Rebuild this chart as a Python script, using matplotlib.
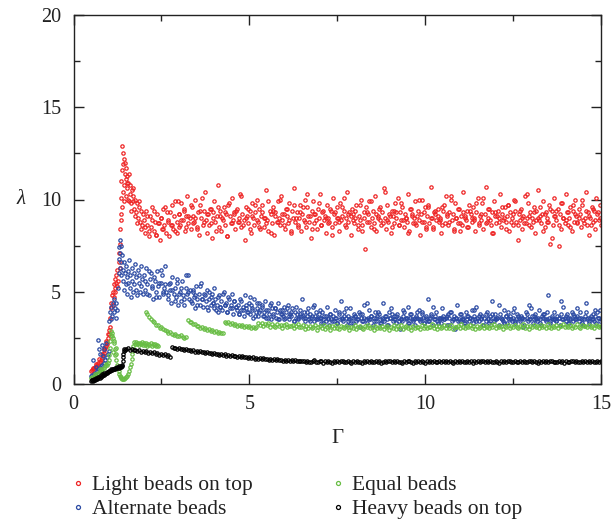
import numpy as np
import matplotlib
matplotlib.use("Agg")
import matplotlib.pyplot as plt

plt.rcParams['font.family'] = ['Liberation Serif', 'DejaVu Serif']

# ---------------- data ----------------
labels = ["Light beads on top", "Alternate beads", "Equal beads", "Heavy beads on top"]
colors = ["#ee2424", "#2b4aa3", "#68bd44", "#000000"]

# --- Light beads on top (red) ---
red_early_x = [0.50, 0.53, 0.56, 0.59, 0.62, 0.65, 0.68, 0.71, 0.74, 0.77, 0.80, 0.83, 0.86, 0.88,
               0.90, 0.92, 0.94, 0.96, 0.98, 1.00, 1.02, 1.03,
               0.55, 0.63, 0.72, 0.81, 0.87, 0.93, 0.97,
               1.04, 1.06, 1.08, 1.10, 1.11, 1.13, 1.14, 1.15, 1.17, 1.18, 1.19, 1.21, 1.22, 1.24,
               1.25, 1.27, 1.28, 1.30, 1.31, 1.33, 1.32, 1.36,
               1.34, 1.35, 1.36, 1.37, 1.38, 1.39, 1.40, 1.41, 1.42, 1.43, 1.44, 1.45, 1.46, 1.47,
               1.48, 1.49, 1.50, 1.52, 1.53, 1.55, 1.56, 1.58, 1.60, 1.62, 1.64, 1.66, 1.68, 1.70,
               1.72, 1.75, 1.78, 1.80, 1.83, 1.86, 1.89, 1.92, 1.95, 1.98,
               1.51, 1.57, 1.63, 1.69, 1.74, 1.81, 1.87, 1.93]
red_early_y = [0.68, 0.74, 0.80, 0.85, 0.92, 0.98, 1.05, 1.12, 1.20, 1.30, 1.42, 1.55, 1.70, 1.82,
               1.95, 2.05, 2.15, 2.30, 2.50, 2.70, 2.90, 3.10,
               0.86, 1.08, 1.35, 1.62, 1.95, 2.35, 2.70,
               3.6, 4.1, 4.4, 4.8, 4.3, 5.0, 5.4, 4.7, 5.2, 5.7, 5.0, 5.5, 5.9, 5.3,
               6.2, 5.6, 6.6, 7.1, 6.3, 7.6, 8.4, 8.9,
               9.2, 10.1, 11.0, 9.6, 12.9, 11.6, 10.4, 12.5, 11.9, 9.9, 12.2, 10.8, 11.4, 12.0,
               10.2, 11.1, 11.7, 10.6, 11.3, 10.0, 10.9, 11.4, 10.3, 10.8, 9.8, 10.5, 9.9, 10.2,
               9.5, 10.0, 9.3, 9.8, 9.0, 9.6, 8.8, 9.4, 8.6, 9.2,
               10.9, 9.9, 9.4, 10.6, 9.1, 8.7, 9.9, 8.4]
red_segments = [(2.0, 3.0), (3.0, 15.0), (2.03, 14.97)]
red_seg_y = [
    [8.9, 8.2, 9.4, 8.6, 8.0, 9.1, 8.5, 9.6, 8.3, 8.8,
     8.1, 9.2, 8.7, 7.8, 9.0, 8.4, 9.5, 8.6, 8.2, 9.3,
     8.9, 8.0, 8.6, 9.7, 8.4, 9.1, 8.3, 8.8, 9.9, 8.5],
    [9.2, 8.6, 9.8, 8.9, 9.4, 8.3, 9.1, 10.2, 8.7, 9.0,
     8.4, 9.6, 9.1, 8.8, 10.0, 8.5, 9.3, 8.1, 9.7, 9.0,
     8.6, 9.4, 10.4, 8.9, 8.2, 9.2, 9.5, 8.7, 7.9, 9.3,
     9.9, 8.8, 9.1, 10.8, 8.5, 9.4, 8.3, 9.0, 9.6, 8.6,
     9.2, 8.0, 9.7, 9.1, 8.7, 10.1, 8.9, 9.3, 8.4, 9.5,
     8.8, 9.0, 10.3, 8.5, 9.2, 8.9, 7.8, 9.6, 9.1, 8.7,
     9.4, 8.2, 9.8, 9.0, 8.6, 9.3, 10.0, 8.8, 9.5, 8.4,
     9.1, 9.7, 8.5, 9.0, 10.5, 8.9, 8.3, 9.4, 9.2, 8.7,
     9.6, 8.1, 9.3, 8.8, 9.9, 9.0, 8.6, 10.2, 8.9, 9.2,
     8.4, 9.5, 9.1, 8.7, 9.8, 8.2, 9.4, 9.0, 10.6, 8.8,
     9.3, 8.6, 9.0, 9.7, 8.3, 9.2, 8.9, 10.0, 8.5, 9.6,
     9.1, 8.8, 7.9, 9.4, 9.9, 8.7, 9.2, 8.4, 9.5, 9.0,
     10.3, 8.6, 9.3, 8.9, 9.1, 8.2, 9.7, 9.0, 8.8, 9.4,
     8.5, 10.1, 9.2, 8.7, 9.6, 9.0, 8.3, 9.8, 8.9, 9.1,
     9.4, 8.6, 9.0, 10.4, 8.8, 9.3, 8.1, 9.5, 9.2, 8.7,
     9.0, 9.7, 8.4, 9.1, 8.9, 10.0, 8.6, 9.3, 7.3, 9.6,
     8.8, 9.2, 9.9, 8.5, 9.0, 9.4, 8.7, 10.2, 8.3, 9.1,
     9.5, 8.9, 8.6, 9.3, 10.6, 9.0, 8.4, 9.7, 8.8, 9.2,
     8.2, 9.4, 9.1, 8.7, 9.8, 9.0, 10.1, 8.6, 9.3, 8.9,
     9.6, 8.5, 9.2, 9.0, 8.8, 10.3, 8.3, 9.5, 9.1, 8.7,
     9.0, 9.9, 8.6, 9.4, 8.9, 8.1, 9.2, 10.0, 8.8, 9.6,
     8.4, 9.1, 9.7, 8.7, 10.7, 9.0, 8.5, 9.3, 9.2, 8.9,
     9.5, 8.8, 9.0, 8.2, 9.6, 9.4, 8.7, 10.2, 9.1, 8.6,
     9.3, 10.0, 8.9, 9.2, 8.4, 9.8, 9.0, 8.7, 9.5, 8.3,
     9.1, 8.6, 10.4, 9.0, 8.9, 9.4, 8.5, 9.7, 9.2, 8.8,
     9.6, 9.0, 8.3, 9.3, 10.1, 8.7, 9.1, 8.9, 9.8, 8.4,
     9.2, 10.7, 8.8, 9.0, 9.5, 8.6, 9.3, 8.2, 9.9, 9.1,
     8.7, 9.4, 9.0, 10.3, 8.5, 9.2, 8.9, 9.6, 8.8, 9.1,
     9.7, 8.3, 9.3, 9.0, 8.6, 10.0, 9.4, 8.8, 7.8, 9.2,
     8.9, 9.5, 8.4, 9.1, 10.2, 8.7, 9.0, 9.8, 8.6, 9.3,
     9.0, 8.8, 9.6, 8.2, 9.4, 10.5, 8.9, 9.1, 8.7, 9.2,
     9.9, 8.5, 9.3, 9.0, 8.8, 9.7, 7.6, 9.4, 8.6, 10.1,
     9.1, 8.9, 9.5, 7.5, 9.2, 8.4, 9.8, 9.0, 8.7, 10.3,
     9.3, 8.6, 9.0, 9.6, 8.3, 9.4, 8.8, 10.0, 9.1, 8.7,
     9.5, 9.2, 8.5, 9.7, 8.9, 9.0, 10.4, 8.6, 9.3, 8.1,
     9.0, 9.6, 8.8, 9.4, 8.4, 10.1, 9.2, 8.9, 9.7, 8.6],
    [8.5, 9.1, 8.3, 8.9, 9.4, 8.1, 8.7, 9.0, 8.4, 9.6,
     8.8, 9.3, 8.6, 9.9, 8.2, 9.2, 8.9, 9.5, 8.5, 9.1,
     9.7, 8.7, 9.0, 8.4, 9.4, 10.1, 8.8, 9.2, 8.6, 9.5,
     9.0, 8.3, 9.6, 9.1, 8.9, 9.3, 8.0, 9.8, 8.7, 9.2,
     9.4, 8.8, 10.2, 8.6, 9.0, 9.5, 8.4, 9.1, 9.7, 8.9,
     8.5, 9.3, 9.0, 8.7, 9.9, 8.2, 9.4, 9.1, 8.8, 10.0,
     9.2, 8.6, 9.5, 8.9, 8.3, 9.7, 9.0, 8.5, 9.3, 9.6,
     8.8, 10.3, 9.1, 8.4, 9.2, 8.9, 9.8, 8.6, 9.4, 9.0,
     8.7, 9.5, 8.1, 9.3, 9.0, 8.8, 9.6, 10.1, 8.5, 9.2,
     9.1, 8.9, 9.4, 8.6, 9.7, 8.3, 9.0, 9.3, 8.8, 9.9,
     8.4, 9.2, 9.0, 9.6, 8.7, 10.4, 8.9, 9.1, 8.5, 9.4,
     9.3, 8.6, 9.8, 8.9, 9.0, 8.2, 9.5, 9.2, 8.7, 9.1,
     10.0, 8.8, 9.3, 8.5, 9.6, 9.0, 8.4, 9.4, 9.1, 8.9,
     8.6, 9.7, 9.2, 8.8, 10.2, 8.3, 9.0, 9.5, 8.7, 9.3,
     9.1, 8.5, 9.4, 9.0, 8.9, 9.8, 8.6, 9.2, 10.1, 8.7,
     9.5, 8.9, 8.2, 9.3, 9.1, 8.8, 9.6, 9.0, 8.4, 9.7,
     8.8, 9.2, 9.9, 8.6, 9.4, 9.0, 8.7, 10.3, 9.1, 8.5,
     9.3, 8.9, 9.0, 9.6, 8.3, 9.2, 8.8, 9.5, 7.9, 9.1,
     9.4, 8.6, 9.8, 9.0, 8.9, 9.3, 8.5, 9.7, 9.2, 8.8,
     9.0, 10.0, 8.7, 9.4, 9.1, 8.6, 9.5, 8.9, 9.3, 9.0],
]

# --- Alternate beads (blue) ---
blue_early_x = [0.50, 0.54, 0.58, 0.62, 0.66, 0.70, 0.74, 0.78, 0.82, 0.86, 0.90, 0.94, 0.97, 1.00,
                0.56, 0.63, 0.69, 0.72, 0.76, 0.80, 0.84, 0.88, 0.93,
                1.02, 1.04, 1.06, 1.08, 1.10, 1.12, 1.14, 1.16, 1.18, 1.20, 1.22, 1.24,
                1.26, 1.28, 1.29, 1.30, 1.31, 1.32, 1.33, 1.34, 1.35, 1.36, 1.38,
                1.40, 1.42, 1.43, 1.45, 1.46, 1.48, 1.50, 1.51, 1.53, 1.55, 1.56, 1.58, 1.60, 1.62,
                1.63, 1.65, 1.67, 1.69, 1.71, 1.73, 1.75, 1.77, 1.79, 1.81, 1.83, 1.85, 1.87, 1.89,
                1.91, 1.93, 1.95, 1.97]
blue_early_y = [0.45, 0.50, 0.55, 0.62, 0.70, 0.80, 0.88, 0.95, 1.05, 1.15, 1.30, 1.45, 1.60, 1.80,
                1.30, 0.90, 2.40, 1.90, 1.60, 2.10, 1.50, 1.90, 2.20,
                3.4, 3.9, 3.5, 4.2, 3.7, 4.4, 3.9, 4.6, 4.1, 3.6, 4.4, 4.0,
                5.2, 6.0, 6.8, 7.4, 6.3, 7.8, 7.1, 6.6, 7.5, 5.9, 7.0,
                6.2, 5.6, 6.6, 5.1, 6.0, 5.4, 6.4, 5.8, 4.9, 6.1, 5.5, 6.7, 5.2, 5.9,
                4.7, 6.3, 5.6, 5.0, 6.0, 5.4, 6.5, 5.1, 5.8, 4.8, 6.2, 5.5, 5.9, 5.0,
                6.4, 5.3, 5.7, 4.9]
blue_segments = [(2.0, 4.0), (4.0, 7.0), (7.0, 15.0), (2.03, 14.97)]
blue_seg_y = [
    [5.9, 5.1, 6.3, 5.4, 4.8, 5.7, 6.0, 5.2, 4.6, 5.6,
     5.0, 6.1, 5.3, 4.7, 5.5, 5.9, 4.9, 5.2, 6.4, 5.0,
     4.6, 5.4, 5.1, 4.4, 5.8, 4.9, 5.2, 4.7, 5.5, 4.3,
     5.0, 4.5, 5.6, 4.8, 4.3, 5.2, 4.9, 5.9, 4.6, 5.1,
     4.4, 5.0, 4.7, 4.1, 5.3, 4.6, 4.9, 4.3, 5.5, 4.6,
     4.2, 4.8, 4.5, 5.1, 4.0, 4.6, 4.3, 4.9, 4.4, 5.2],
    [4.1, 4.6, 4.3, 3.9, 4.8, 4.2, 4.5, 4.0, 5.0, 4.3,
     4.4, 3.9, 4.7, 4.1, 4.3, 4.9, 3.8, 4.5, 4.2, 4.0,
     4.3, 3.8, 4.6, 4.0, 4.2, 3.7, 4.8, 4.1, 3.9, 4.4,
     3.8, 4.3, 4.0, 3.6, 4.6, 3.9, 4.1, 3.7, 4.4, 4.0,
     4.2, 3.7, 3.9, 4.5, 3.6, 4.0, 3.8, 4.3, 3.5, 4.1,
     3.7, 4.1, 3.6, 3.9, 4.4, 3.5, 3.8, 4.0, 3.7, 4.2,
     3.6, 3.9, 4.3, 3.5, 3.8, 3.7, 4.1, 3.4, 3.9, 3.6,
     3.8, 3.5, 4.0, 3.7, 4.6, 3.6, 3.9, 3.4, 3.7, 4.1,
     3.5, 3.8, 3.6, 4.2, 3.4, 3.7, 3.9, 3.6, 3.5, 4.0],
    [3.6, 3.3, 3.9, 3.5, 3.7, 3.4, 4.2, 3.6, 3.2, 3.8,
     3.5, 3.7, 3.4, 4.0, 3.6, 3.3, 3.8, 3.5, 4.5, 3.6,
     3.4, 3.9, 3.6, 3.2, 3.7, 3.5, 4.1, 3.3, 3.6, 3.8,
     3.7, 3.4, 3.5, 3.9, 3.1, 3.6, 3.8, 3.4, 4.3, 3.5,
     3.3, 3.6, 4.0, 3.5, 3.7, 3.2, 3.6, 3.9, 3.4, 3.7,
     3.8, 3.5, 3.3, 3.6, 4.4, 3.4, 3.7, 3.5, 3.2, 3.9,
     3.6, 4.1, 3.4, 3.7, 3.5, 3.3, 3.8, 3.6, 3.0, 3.5,
     3.4, 3.7, 3.9, 3.5, 3.6, 4.2, 3.3, 3.6, 3.8, 3.4,
     3.5, 3.2, 3.7, 3.6, 4.0, 3.4, 3.5, 3.9, 3.6, 3.3,
     3.7, 3.5, 4.6, 3.4, 3.6, 3.8, 3.2, 3.5, 3.7, 3.9,
     3.4, 3.6, 3.5, 3.3, 4.1, 3.7, 3.5, 3.6, 3.2, 3.8,
     3.6, 3.9, 3.4, 3.5, 3.7, 3.0, 3.6, 4.3, 3.5, 3.4,
     3.8, 3.5, 3.6, 3.3, 3.9, 3.5, 3.7, 3.4, 3.6, 4.0,
     3.3, 3.7, 3.5, 4.2, 3.6, 3.4, 3.8, 3.5, 3.7, 3.2,
     3.6, 3.4, 3.9, 3.5, 3.3, 3.7, 4.5, 3.6, 3.4, 3.8,
     3.5, 3.6, 3.2, 3.8, 3.6, 3.5, 3.4, 4.0, 3.7, 3.3,
     3.9, 3.5, 3.7, 3.4, 3.6, 4.1, 3.3, 3.5, 3.8, 3.6,
     3.4, 3.7, 3.6, 3.1, 3.5, 3.9, 3.6, 3.4, 4.3, 3.5,
     3.7, 3.3, 3.5, 3.8, 3.6, 3.4, 4.0, 3.5, 3.2, 3.7,
     3.6, 3.8, 3.4, 3.5, 4.8, 3.6, 3.3, 3.7, 3.5, 3.9,
     3.5, 3.4, 3.7, 3.6, 3.2, 3.8, 3.5, 4.2, 3.6, 3.4,
     3.8, 3.6, 3.3, 3.5, 3.9, 3.4, 3.7, 3.5, 3.6, 4.1,
     3.4, 3.9, 3.6, 3.5, 3.2, 3.7, 4.4, 3.5, 3.6, 3.3,
     3.6, 3.5, 3.8, 3.4, 3.7, 3.3, 3.9, 3.6, 4.0, 3.5],
    [5.6, 4.9, 6.1, 5.3, 5.8, 4.7, 5.5, 6.2, 5.0, 5.4,
     4.8, 5.5, 5.1, 4.5, 5.7, 4.9, 5.2, 4.6, 5.9, 5.0,
     4.5, 5.1, 4.8, 4.3, 5.3, 4.6, 4.9, 4.2, 5.0, 4.7,
     4.4, 4.0, 4.7, 4.2, 4.9, 4.3, 3.9, 4.6, 4.1, 4.5,
     4.2, 3.8, 4.5, 4.0, 4.3, 3.9, 4.7, 4.1, 3.7, 4.4,
     3.9, 4.3, 3.7, 4.0, 3.6, 4.4, 3.8, 4.1, 3.5, 4.0,
     3.8, 3.5, 4.1, 3.7, 3.9, 3.4, 4.2, 3.6, 3.8, 3.7,
     3.6, 3.9, 3.4, 3.7, 4.3, 3.5, 3.8, 3.6, 3.3, 3.7,
     3.5, 3.8, 3.4, 3.6, 3.3, 3.9, 3.5, 3.7, 4.1, 3.4,
     3.6, 3.3, 3.7, 3.5, 3.8, 3.4, 3.6, 4.4, 3.5, 3.7,
     3.4, 3.6, 3.9, 3.3, 3.5, 3.7, 3.2, 3.6, 3.8, 3.5,
     3.7, 3.4, 3.5, 4.0, 3.6, 3.3, 3.8, 3.5, 3.6, 3.9,
     3.5, 3.8, 3.3, 3.6, 3.4, 3.7, 4.2, 3.5, 3.3, 3.6,
     3.6, 3.5, 3.7, 3.2, 3.9, 3.5, 3.6, 3.4, 3.8, 3.5,
     3.3, 3.7, 3.6, 3.5, 4.0, 3.4, 3.7, 3.6, 3.2, 3.8,
     3.6, 3.4, 3.8, 3.5, 3.6, 4.3, 3.5, 3.3, 3.7, 3.6,
     3.5, 3.9, 3.4, 3.7, 3.5, 3.6, 3.2, 3.8, 3.5, 4.1,
     3.7, 3.5, 3.6, 3.3, 3.8, 3.5, 3.9, 3.4, 3.6, 3.5,
     3.4, 3.6, 4.5, 3.5, 3.7, 3.3, 3.6, 3.8, 3.5, 3.7,
     3.6, 3.3, 3.5, 3.9, 3.4, 3.7, 3.5, 4.0, 3.6, 3.4],
]

# --- Equal beads (green) ---
green_early_x = [0.50, 0.54, 0.58, 0.62, 0.66, 0.70, 0.74, 0.78, 0.82, 0.86, 0.90, 0.94, 0.97, 1.00,
                 1.02, 1.04, 1.05, 1.06, 1.08, 1.09, 1.10, 1.12, 1.14, 1.16, 1.18, 1.20, 1.22, 1.24,
                 1.26, 1.28, 1.30, 1.32, 1.34, 1.36, 1.38, 1.40, 1.43, 1.46, 1.49, 1.52, 1.55, 1.58,
                 1.61, 1.63, 1.65, 1.67,
                 1.68, 1.71, 1.74, 1.77, 1.80, 1.83, 1.86, 1.89, 1.92, 1.95, 1.98, 2.01, 2.04, 2.07,
                 2.10, 2.13, 2.16, 2.19, 2.22, 2.25, 2.28, 2.31, 2.34, 2.37, 2.40,
                 1.13, 1.17, 1.21, 0.60, 0.76, 0.92]
green_early_y = [0.30, 0.36, 0.40, 0.46, 0.52, 0.58, 0.65, 0.72, 0.80, 0.88, 0.96, 1.05, 1.15, 1.30,
                 1.55, 1.95, 2.35, 2.65, 2.85, 2.75, 2.60, 2.50, 2.35, 2.20, 1.90, 1.60, 1.30, 1.05,
                 0.85, 0.70, 0.55, 0.45, 0.38, 0.32, 0.28, 0.27, 0.28, 0.32, 0.38, 0.45, 0.55, 0.70,
                 0.90, 1.10, 1.35, 1.60,
                 2.05, 2.25, 2.15, 2.28, 2.18, 2.24, 2.12, 2.22, 2.16, 2.26, 2.10, 2.20, 2.14, 2.22,
                 2.08, 2.18, 2.12, 2.20, 2.06, 2.15, 2.10, 2.17, 2.05, 2.12, 2.08,
                 1.75, 1.55, 1.95, 0.52, 0.80, 1.08]
green_segments = [(2.05, 3.2), (3.25, 4.25), (4.3, 5.2), (5.25, 15.0)]
green_seg_y = [
    [3.92, 3.78, 3.62, 3.55, 3.41, 3.36, 3.22, 3.18, 3.05, 3.08, 2.96, 2.91,
     2.88, 2.79, 2.82, 2.71, 2.68, 2.73, 2.62, 2.58, 2.64, 2.53, 2.49, 2.55],
    [3.46, 3.35, 3.36, 3.24, 3.25, 3.14, 3.16, 3.06, 3.09, 2.98, 3.02, 2.92,
     2.96, 2.87, 2.93, 2.82, 2.86, 2.78, 2.84, 2.74, 2.79],
    [3.38, 3.30, 3.34, 3.25, 3.29, 3.21, 3.26, 3.17, 3.22, 3.12, 3.19, 3.10,
     3.15, 3.07, 3.13, 3.04, 3.10, 3.02, 3.08],
    [3.31, 3.22, 3.28, 3.14, 3.25, 3.19, 3.33, 3.11, 3.24, 3.17,
     3.09, 3.26, 3.15, 3.21, 3.04, 3.18, 3.27, 3.08, 3.16, 3.12,
     3.20, 3.01, 3.14, 3.23, 3.07, 3.11, 3.19, 2.98, 3.13, 3.06,
     3.17, 3.03, 3.10, 3.22, 2.95, 3.09, 3.14, 3.05, 3.18, 3.00,
     3.08, 3.15, 2.93, 3.12, 3.04, 3.20, 3.06, 2.97, 3.13, 3.09,
     3.02, 3.16, 3.07, 2.91, 3.11, 3.05, 3.19, 3.00, 3.10, 3.14,
     3.06, 2.96, 3.12, 3.08, 3.21, 3.01, 3.09, 2.94, 3.15, 3.04,
     3.11, 3.03, 3.17, 2.99, 3.07, 3.13, 2.92, 3.10, 3.05, 3.18,
     3.00, 3.12, 3.06, 3.22, 2.97, 3.09, 3.14, 3.02, 3.08, 2.95,
     3.16, 3.04, 3.11, 3.07, 2.98, 3.19, 3.05, 3.13, 3.01, 3.10,
     3.08, 3.23, 3.03, 3.12, 2.96, 3.15, 3.06, 3.10, 3.18, 3.02,
     3.13, 3.05, 3.20, 2.99, 3.11, 3.07, 3.16, 3.04, 3.24, 3.09,
     3.01, 3.14, 3.08, 3.19, 3.03, 3.12, 2.97, 3.17, 3.06, 3.11,
     3.21, 3.05, 3.13, 3.09, 3.02, 3.18, 3.10, 3.25, 3.04, 3.15,
     3.07, 3.12, 2.98, 3.16, 3.09, 3.22, 3.03, 3.14, 3.08, 3.19,
     3.11, 3.04, 3.17, 3.10, 3.26, 3.06, 3.13, 3.00, 3.15, 3.09,
     3.18, 3.07, 3.12, 3.03, 3.20, 3.10, 3.16, 3.05, 3.23, 3.11,
     3.06, 3.14, 3.09, 3.21, 3.02, 3.17, 3.12, 3.27, 3.08, 3.15,
     3.10, 3.19, 3.04, 3.13, 3.08, 3.24, 3.11, 3.06, 3.18, 3.12,
     3.15, 3.07, 3.22, 3.10, 3.16, 3.03, 3.20, 3.13, 3.09, 3.17],
]

# --- Heavy beads on top (black) ---
black_early_x = [0.50, 0.53, 0.56, 0.59, 0.62, 0.65, 0.68, 0.71, 0.74, 0.77, 0.80, 0.83, 0.86, 0.89,
                 0.92, 0.95, 0.98, 1.01, 1.04, 1.07, 1.10, 1.13, 1.16, 1.19, 1.22, 1.25, 1.28, 1.31,
                 1.34, 1.37, 1.39, 1.40, 1.41, 1.42, 1.43, 1.45, 1.47,
                 0.52, 0.58, 0.64, 0.70, 0.76, 0.82, 0.88, 0.94, 1.00, 1.06, 1.12, 1.18, 1.24, 1.30, 1.36]
black_early_y = [0.15, 0.20, 0.18, 0.24, 0.22, 0.28, 0.27, 0.33, 0.35, 0.40, 0.42, 0.48, 0.50, 0.55,
                 0.58, 0.62, 0.66, 0.68, 0.72, 0.74, 0.76, 0.80, 0.82, 0.83, 0.85, 0.86, 0.88, 0.90,
                 0.92, 0.95, 1.05, 1.25, 1.45, 1.65, 1.80, 1.90, 1.85,
                 0.24, 0.29, 0.33, 0.38, 0.46, 0.53, 0.60, 0.67, 0.73, 0.79, 0.84, 0.88, 0.92, 0.96, 1.00]
black_segments = [(1.5, 2.75), (2.8, 6.5), (6.55, 15.0)]
black_seg_y = [
    [1.88, 1.93, 1.84, 1.90, 1.82, 1.86, 1.79, 1.85, 1.76, 1.81, 1.73, 1.78, 1.70,
     1.75, 1.66, 1.72, 1.62, 1.68, 1.58, 1.64, 1.55, 1.60, 1.51, 1.56, 1.48],
    [1.98, 1.93, 1.97, 1.90, 1.94, 1.87, 1.91, 1.85, 1.88, 1.82,
     1.86, 1.79, 1.83, 1.76, 1.80, 1.74, 1.78, 1.71, 1.75, 1.69,
     1.72, 1.66, 1.70, 1.63, 1.67, 1.61, 1.65, 1.58, 1.62, 1.57,
     1.60, 1.54, 1.58, 1.51, 1.56, 1.50, 1.54, 1.47, 1.52, 1.46,
     1.50, 1.44, 1.48, 1.42, 1.46, 1.40, 1.45, 1.38, 1.43, 1.37,
     1.41, 1.35, 1.39, 1.33, 1.38, 1.32, 1.36, 1.31, 1.35, 1.29,
     1.34, 1.28, 1.32, 1.27, 1.31, 1.25, 1.30, 1.26, 1.29, 1.24,
     1.28, 1.23, 1.27, 1.22, 1.26],
    [1.24, 1.19, 1.26, 1.21, 1.17, 1.23, 1.28, 1.20, 1.18, 1.25,
     1.22, 1.16, 1.24, 1.19, 1.27, 1.21, 1.15, 1.23, 1.20, 1.26,
     1.18, 1.22, 1.25, 1.17, 1.21, 1.24, 1.19, 1.14, 1.23, 1.20,
     1.26, 1.18, 1.21, 1.16, 1.24, 1.20, 1.27, 1.19, 1.22, 1.17,
     1.21, 1.25, 1.18, 1.23, 1.15, 1.20, 1.24, 1.19, 1.26, 1.22,
     1.17, 1.23, 1.20, 1.25, 1.18, 1.21, 1.16, 1.24, 1.19, 1.22,
     1.25, 1.19, 1.14, 1.22, 1.20, 1.27, 1.18, 1.23, 1.21, 1.16,
     1.22, 1.18, 1.24, 1.20, 1.26, 1.17, 1.21, 1.25, 1.19, 1.23,
     1.20, 1.24, 1.17, 1.22, 1.19, 1.15, 1.23, 1.21, 1.26, 1.18,
     1.23, 1.17, 1.21, 1.25, 1.20, 1.22, 1.16, 1.24, 1.19, 1.27,
     1.19, 1.22, 1.26, 1.18, 1.23, 1.20, 1.25, 1.17, 1.21, 1.24,
     1.21, 1.16, 1.23, 1.20, 1.24, 1.18, 1.22, 1.27, 1.19, 1.21,
     1.25, 1.20, 1.18, 1.23, 1.17, 1.24, 1.21, 1.19, 1.26, 1.22,
     1.18, 1.23, 1.20, 1.16, 1.25, 1.21, 1.24, 1.19, 1.22, 1.17,
     1.22, 1.26, 1.19, 1.21, 1.18, 1.24, 1.20, 1.25, 1.16, 1.23,
     1.20, 1.17, 1.24, 1.22, 1.19, 1.26, 1.21, 1.18, 1.23, 1.20,
     1.24, 1.19, 1.22, 1.18, 1.25, 1.21, 1.17, 1.23, 1.20, 1.22],
]

x_ticks = [0, 5, 10, 15]
y_ticks = [0, 5, 10, 15, 20]


def assemble(early_x, early_y, segments, seg_y):
    xs = [np.asarray(early_x, float)]
    ys = [np.asarray(early_y, float)]
    for (g0, g1), yv in zip(segments, seg_y):
        xs.append(np.linspace(g0, g1, len(yv)))
        ys.append(np.asarray(yv, float))
    return np.concatenate(xs), np.concatenate(ys)


series = [
    assemble(red_early_x, red_early_y, red_segments, red_seg_y),
    assemble(blue_early_x, blue_early_y, blue_segments, blue_seg_y),
    assemble(green_early_x, green_early_y, green_segments, green_seg_y),
    assemble(black_early_x, black_early_y, black_segments, black_seg_y),
]

# ---------------- figure ----------------
W, H = 613, 521
fig = plt.figure(figsize=(W / 100, H / 100), dpi=100)
ax = fig.add_axes([73.5 / W, 1 - 384 / H, (601 - 73.5) / W, (384 - 15) / H])

handles = []
for (x, y), lab, col in zip(series, labels, colors):
    h, = ax.plot(x, y, linestyle='none', marker='o', ms=2.4, mfc='none',
                 mec=col, mew=0.9, label=lab)
    handles.append(h)

ax.set_xlim(0, 15)
ax.set_ylim(0, 20)
ax.set_xticks(x_ticks)
ax.set_yticks(y_ticks)
ax.set_xticks([2.5, 7.5, 12.5], minor=True)
ax.set_yticks([2.5, 7.5, 12.5, 17.5], minor=True)
ax.tick_params(which='both', direction='in', top=True, right=True, colors='#222222',
               labelcolor='#222222', labelsize=14.5, width=1.0)
ax.tick_params(which='major', length=7.5)
ax.tick_params(which='minor', length=4)
ax.tick_params(axis='x', pad=8)
ax.tick_params(axis='y', pad=9)
for s in ax.spines.values():
    s.set_linewidth(1.0)
    s.set_color('#222222')

ax.set_xlabel('Γ', fontsize=15, color='#222222', labelpad=11)
ax.set_ylabel('λ', fontsize=15, color='#222222', rotation=0, fontstyle='italic',
              ha='center', va='center')
ax.yaxis.set_label_coords(-0.1, 0.5)

leg_kw = dict(frameon=False, fontsize=15.5, handlelength=0.6, handletextpad=0.35,
              labelspacing=0.2, markerscale=1.2, borderaxespad=0, borderpad=0)
leg1 = fig.legend(handles=handles[:2], loc='upper left',
                  bbox_to_anchor=(72 / W, 1 - 475 / H), **leg_kw)
leg2 = fig.legend(handles=handles[2:], loc='upper left',
                  bbox_to_anchor=(332 / W, 1 - 475 / H), **leg_kw)
for lg in (leg1, leg2):
    for t in lg.get_texts():
        t.set_color('#222222')

fig.savefig('out.png', dpi=100)
